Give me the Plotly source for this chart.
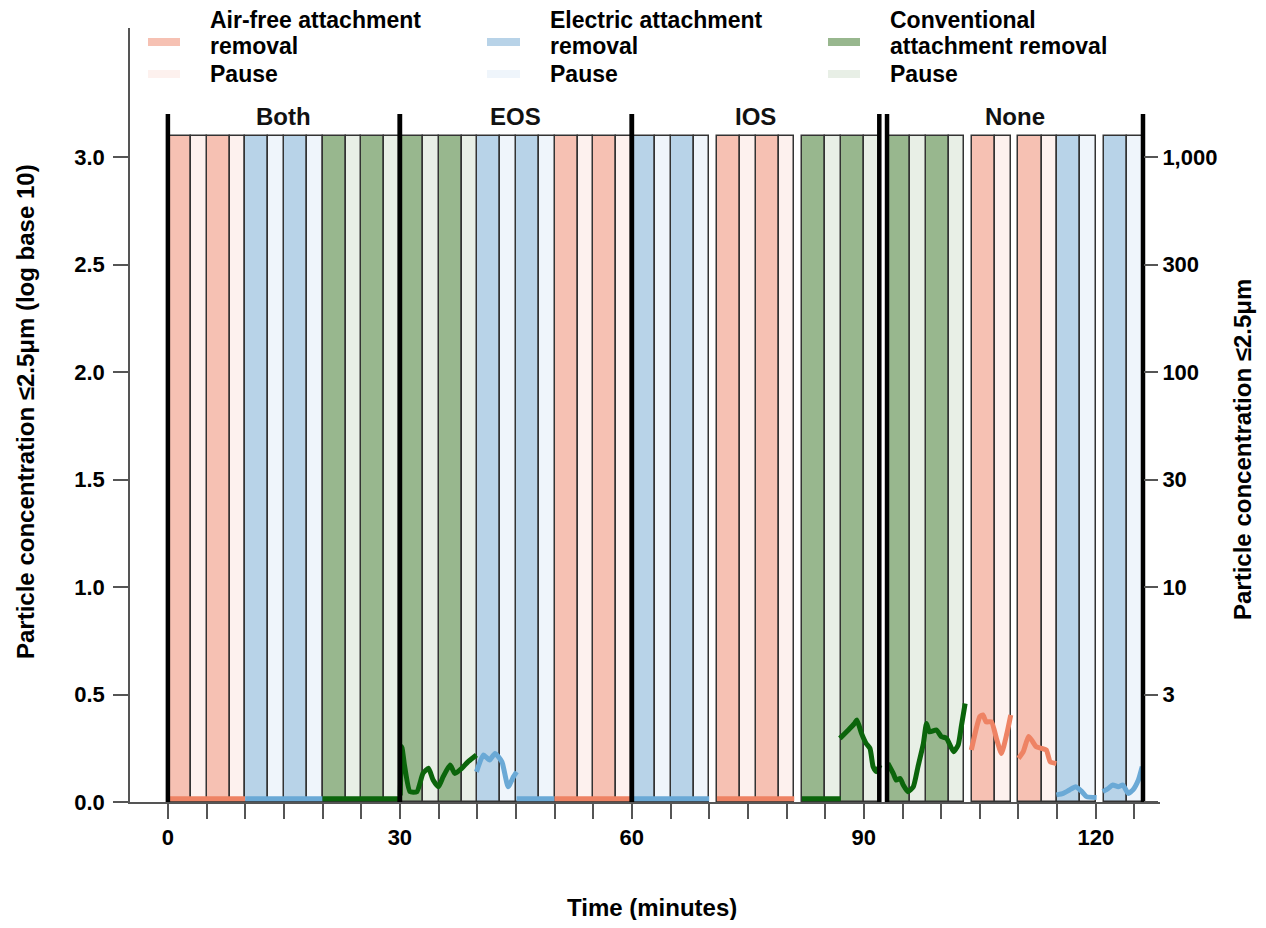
import plotly.graph_objects as go

# ---------------- data ----------------
section_names = ["Both", "EOS", "IOS", "None"]
section_start = [0, 30, 60, 93]
section_end = [30, 60, 92, 126.1]

phase_start = [0, 3, 5, 8, 10, 13, 15, 18, 20, 23, 25, 28,
               30, 33, 35, 38, 40, 43, 45, 48, 50, 53, 55, 58,
               60, 63, 65, 68, 71, 74, 76, 79, 82, 85, 87, 90,
               93, 96, 98, 101, 104, 107, 110, 113, 115, 118, 121, 124]
phase_end = [3, 5, 8, 10, 13, 15, 18, 20, 23, 25, 28, 30,
             33, 35, 38, 40, 43, 45, 48, 50, 53, 55, 58, 60,
             63, 65, 68, 70, 74, 76, 79, 81, 85, 87, 90, 92,
             96, 98, 101, 103, 107, 109, 113, 115, 118, 120, 124, 126.1]
phase_attachment = (["air"] * 4 + ["electric"] * 4 + ["conventional"] * 4 +
                    ["conventional"] * 4 + ["electric"] * 4 + ["air"] * 4 +
                    ["electric"] * 4 + ["air"] * 4 + ["conventional"] * 4 +
                    ["conventional"] * 4 + ["air"] * 4 + ["electric"] * 4)
phase_state = ["removal", "pause"] * 24
bar_top = 3.1

# flat (zero) concentration segments, log10 scale
flat_attachment = ["air", "electric", "conventional", "electric", "air", "electric", "air", "conventional"]
flat_start = [0, 10, 20, 45.1, 50, 60, 71, 82]
flat_end = [10, 20, 30, 50, 60, 70, 81, 87]
flat_level = 0.015

eos_conv_t = [30.05, 30.25, 30.6, 31.3, 32.2, 33.0, 33.7, 34.3, 35.0, 35.6, 36.5, 37.1, 38.0, 38.8, 39.9]
eos_conv_y = [0.03, 0.257, 0.17, 0.048, 0.048, 0.134, 0.157, 0.102, 0.071, 0.118, 0.172, 0.133, 0.156, 0.187, 0.219]
eos_elec_t = [39.9, 40.8, 41.6, 42.3, 43.2, 44.0, 44.7, 45.1]
eos_elec_y = [0.14, 0.219, 0.195, 0.226, 0.187, 0.071, 0.118, 0.14]
ios_conv_t = [86.9, 88.0, 88.8, 89.1, 89.7, 90.3, 90.8, 91.2, 91.6, 92.1]
ios_conv_y = [0.296, 0.335, 0.366, 0.381, 0.319, 0.272, 0.249, 0.164, 0.141, 0.172]
none_conv_t = [93.1, 93.8, 94.2, 94.7, 95.1, 95.7, 96.4, 97.0, 97.7, 98.1, 98.5, 99.4, 100.0, 100.7, 101.6, 102.2, 102.6, 103.1]
none_conv_y = [0.18, 0.133, 0.102, 0.109, 0.079, 0.048, 0.071, 0.164, 0.272, 0.365, 0.326, 0.335, 0.305, 0.296, 0.234, 0.265, 0.35, 0.458]
none_air1_t = [103.9, 104.6, 105.0, 105.4, 105.8, 106.5, 107.2, 107.8, 108.5, 109.0]
none_air1_y = [0.242, 0.35, 0.397, 0.405, 0.373, 0.373, 0.288, 0.226, 0.319, 0.405]
none_air2_t = [110.0, 110.6, 111.3, 111.7, 112.3, 113.0, 113.6, 114.1, 114.9]
none_air2_y = [0.203, 0.233, 0.305, 0.288, 0.257, 0.249, 0.242, 0.187, 0.179]
none_elec1_t = [114.9, 115.8, 116.6, 117.4, 118.2, 118.8, 120.1]
none_elec1_y = [0.033, 0.040, 0.056, 0.071, 0.048, 0.025, 0.021]
none_elec2_t = [120.9, 121.6, 122.2, 122.9, 123.5, 124.2, 124.8, 125.5, 126.0]
none_elec2_y = [0.048, 0.063, 0.079, 0.071, 0.079, 0.040, 0.056, 0.102, 0.164]

x_tick_values = list(range(0, 130, 5))
x_tick_labels = ["0" if v == 0 else (str(v) if v % 30 == 0 else "") for v in x_tick_values]
left_tick_values = [0, 0.5, 1.0, 1.5, 2.0, 2.5, 3.0]
left_tick_labels = ["0.0", "0.5", "1.0", "1.5", "2.0", "2.5", "3.0"]
right_tick_values = [0, 0.5, 1.0, 1.5, 2.0, 2.5, 3.0]
right_tick_labels = ["", "3", "10", "30", "100", "300", "1,000"]

legend_line1 = ["Air-free attachment", "Electric attachment", "Conventional"]
legend_line2 = ["removal", "removal", "attachment removal"]
legend_pause = ["Pause", "Pause", "Pause"]
legend_keys = ["air", "electric", "conventional"]

# ---------------- styles ----------------
fill_colors = {
    ("air", "removal"): "#F6C1B3", ("air", "pause"): "#FDF1EE",
    ("electric", "removal"): "#B8D3E8", ("electric", "pause"): "#EFF5FB",
    ("conventional", "removal"): "#98B78E", ("conventional", "pause"): "#E8EFE6",
}
line_colors = {"air": "#EE8364", "electric": "#6AA9D6", "conventional": "#0B650B"}
FONT = "Arial"
XMIN, XMAX = -4.9, 128.3
YMIN, YMAX = 0, 3.6

fig = go.Figure()

# bars
for key, color in fill_colors.items():
    idx = [i for i in range(len(phase_start)) if (phase_attachment[i], phase_state[i]) == key]
    fig.add_trace(go.Bar(
        x=[(phase_start[i] + phase_end[i]) / 2 for i in idx],
        y=[bar_top] * len(idx),
        width=[phase_end[i] - phase_start[i] for i in idx],
        base=0,
        marker=dict(color=color, line=dict(color="#333333", width=1.5)),
        showlegend=False, hoverinfo="skip",
    ))

# flat segments
for att, s, e in zip(flat_attachment, flat_start, flat_end):
    fig.add_trace(go.Scatter(x=[s, e], y=[flat_level, flat_level], mode="lines",
                             line=dict(color=line_colors[att], width=5),
                             showlegend=False, hoverinfo="skip"))

curves = [
    (eos_conv_t, eos_conv_y, "conventional"),
    (eos_elec_t, eos_elec_y, "electric"),
    (ios_conv_t, ios_conv_y, "conventional"),
    (none_conv_t, none_conv_y, "conventional"),
    (none_air1_t, none_air1_y, "air"),
    (none_air2_t, none_air2_y, "air"),
    (none_elec1_t, none_elec1_y, "electric"),
    (none_elec2_t, none_elec2_y, "electric"),
]
for t, y, att in curves:
    fig.add_trace(go.Scatter(x=t, y=y, mode="lines",
                             line=dict(color=line_colors[att], width=5, shape="spline", smoothing=0.5),
                             showlegend=False, hoverinfo="skip"))

# section boundaries (on y2 so the right axis is drawn)
bx, by = [], []
for s, e in zip(section_start, section_end):
    for v in (s, e):
        bx += [v, v, None]
        by += [0, 3.2, None]
fig.add_trace(go.Scatter(x=bx, y=by, mode="lines", yaxis="y2",
                         line=dict(color="black", width=4.5),
                         showlegend=False, hoverinfo="skip"))

# section labels
for name, s, e in zip(section_names, section_start, section_end):
    fig.add_annotation(x=(s + e) / 2, y=3.19, text=name, showarrow=False,
                       xref="x", yref="y", xanchor="center", yanchor="middle",
                       font=dict(family=FONT, size=24, color="#111", weight="bold"))

# page-pixel helpers (plot area spans page x 130..1160, y 28..802)
def px_x(p):
    return (p - 130) / 1030

def px_y(p):
    return (802 - p) / 774

LEG_FONT = dict(family=FONT, size=23, color="black", weight="bold")
legend_text_x = [208, 548, 888]
legend_swatch_x = [(148, 180), (487, 520), (828, 860)]
for l1, l2, lp, key, tx, (sx0, sx1) in zip(legend_line1, legend_line2, legend_pause, legend_keys,
                                          legend_text_x, legend_swatch_x):
    for txt, yy in ((l1, 20), (l2, 46), (lp, 74)):
        fig.add_annotation(x=px_x(tx), y=px_y(yy), xref="paper", yref="paper", text=txt,
                           showarrow=False, xanchor="left", yanchor="middle", align="left",
                           font=LEG_FONT)
    fig.add_shape(type="line", xref="paper", yref="paper", x0=px_x(sx0), x1=px_x(sx1),
                  y0=px_y(42), y1=px_y(42), line=dict(color=fill_colors[(key, "removal")], width=8))
    fig.add_shape(type="line", xref="paper", yref="paper", x0=px_x(sx0), x1=px_x(sx1),
                  y0=px_y(74), y1=px_y(74), line=dict(color=fill_colors[(key, "pause")], width=8))

TITLE_FONT = dict(family=FONT, size=24, color="black", weight="bold")
fig.add_annotation(x=px_x(25), y=px_y(412), xref="paper", yref="paper",
                   text="Particle concentration ≤2.5μm (log base 10)", textangle=-90,
                   xanchor="center", yanchor="middle", showarrow=False, font=TITLE_FONT)
fig.add_annotation(x=px_x(1243), y=px_y(450), xref="paper", yref="paper",
                   text="Particle concentration ≤2.5μm", textangle=-90,
                   xanchor="center", yanchor="middle", showarrow=False, font=TITLE_FONT)
fig.add_annotation(x=px_x(652), y=px_y(907), xref="paper", yref="paper",
                   text="Time (minutes)", xanchor="center", yanchor="middle",
                   showarrow=False, font=TITLE_FONT)

right_pos = (section_end[-1] - XMIN) / (XMAX - XMIN)
TICK_FONT = dict(family=FONT, size=22, color="black", weight="bold")

# the page body has an 8px margin, so the figure is 1250x912 with plot area at page 130..1160 / 28..802
fig.update_layout(
    width=1250, height=912,
    margin=dict(l=122, r=98, t=20, b=118, autoexpand=False),
    plot_bgcolor="white", paper_bgcolor="white",
    barmode="overlay", bargap=0,
    xaxis=dict(range=[XMIN, XMAX], tickvals=x_tick_values, ticktext=x_tick_labels,
               ticks="outside", ticklen=15, tickcolor="#555", tickwidth=1.5, automargin=False,
               showline=True, linecolor="#555", linewidth=1.5, showgrid=False, zeroline=False,
               tickfont=TICK_FONT),
    yaxis=dict(range=[YMIN, YMAX], tickvals=left_tick_values, ticktext=left_tick_labels,
               ticks="outside", ticklen=15, tickcolor="#555", tickwidth=1.5, ticklabelstandoff=4,
               showline=True, linecolor="#555", linewidth=1.5, showgrid=False, zeroline=False,
               automargin=False, tickfont=TICK_FONT),
    yaxis2=dict(range=[YMIN, YMAX], overlaying="y", side="right", anchor="free", position=right_pos,
                tickvals=right_tick_values, ticktext=right_tick_labels,
                ticks="outside", ticklen=14, tickcolor="#555", tickwidth=1.5, automargin=False,
                showline=False, showgrid=False, zeroline=False, tickfont=TICK_FONT),
)

fig.write_html("out.html")
